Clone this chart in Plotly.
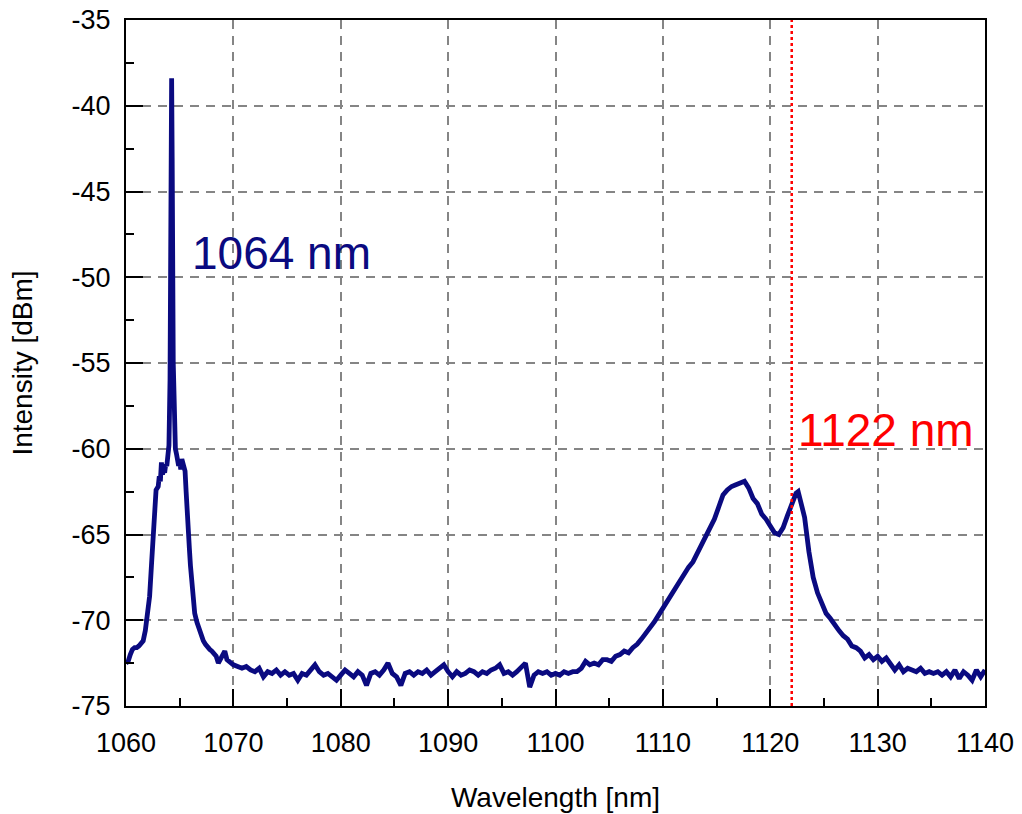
import plotly.graph_objects as go

# Measured emission spectrum: wavelength [nm] and intensity [dBm]
wavelength = [
    1060.0, 1060.2, 1060.4, 1060.6, 1060.8, 1061.0, 1061.2, 1061.4, 1061.6, 1061.8,
    1061.9, 1062.0, 1062.2, 1062.4, 1062.6, 1062.8, 1063.0, 1063.1, 1063.2, 1063.3,
    1063.4, 1063.5, 1063.6, 1063.7, 1063.8, 1063.9, 1064.0, 1064.1, 1064.2, 1064.25,
    1064.3, 1064.4, 1064.5, 1064.6, 1064.7, 1064.8, 1064.9, 1065.0, 1065.1, 1065.2,
    1065.3, 1065.4, 1065.5, 1065.6, 1065.7, 1065.8, 1065.9, 1066.0, 1066.2, 1066.4,
    1066.6, 1066.8, 1067.0, 1067.2, 1067.4, 1067.6, 1067.8, 1068.0, 1068.2, 1068.4,
    1068.6, 1068.8, 1069.0, 1069.2, 1069.4, 1069.6, 1069.8, 1070.0,
    1070.4, 1070.8, 1071.2, 1071.6, 1072.0, 1072.4, 1072.8, 1073.2, 1073.6, 1074.0,
    1074.4, 1074.8, 1075.2, 1075.6, 1076.0, 1076.4, 1076.8, 1077.2, 1077.6, 1078.0,
    1078.4, 1078.8, 1079.2, 1079.6, 1080.0, 1080.4, 1080.8, 1081.2, 1081.6, 1082.0,
    1082.4, 1082.8, 1083.2, 1083.6, 1084.0, 1084.4, 1084.8, 1085.2, 1085.6, 1086.0,
    1086.4, 1086.8, 1087.2, 1087.6, 1088.0, 1088.4, 1088.8, 1089.2, 1089.6, 1090.0,
    1090.4, 1090.8, 1091.2, 1091.6, 1092.0, 1092.4, 1092.8, 1093.2, 1093.6, 1094.0,
    1094.4, 1094.8, 1095.2, 1095.6, 1096.0, 1096.4, 1096.8, 1097.2, 1097.6, 1098.0,
    1098.4, 1098.8, 1099.2, 1099.6, 1100.0,
    1100.4, 1100.8, 1101.2, 1101.6, 1102.0, 1102.4, 1102.8, 1103.2, 1103.6, 1104.0,
    1104.4, 1104.8, 1105.2, 1105.6, 1106.0, 1106.4, 1106.8, 1107.2, 1107.6, 1108.0,
    1108.4, 1108.8, 1109.2, 1109.6, 1110.0, 1110.4, 1110.8, 1111.2, 1111.6, 1112.0,
    1112.4, 1112.8, 1113.2, 1113.6, 1114.0, 1114.4, 1114.8, 1115.2, 1115.6, 1116.0,
    1116.4, 1116.8, 1117.2, 1117.6, 1118.0, 1118.4, 1118.8, 1119.2, 1119.6, 1120.0,
    1120.4, 1120.8, 1121.2, 1121.6, 1122.0, 1122.4, 1122.6, 1122.8, 1123.2, 1123.6,
    1124.0, 1124.4, 1124.8, 1125.2, 1125.6, 1126.0, 1126.4, 1126.8, 1127.2, 1127.6,
    1128.0, 1128.4, 1128.8, 1129.2, 1129.6, 1130.0,
    1130.4, 1130.8, 1131.2, 1131.6, 1132.0, 1132.4, 1132.8, 1133.2, 1133.6, 1134.0,
    1134.4, 1134.8, 1135.2, 1135.6, 1136.0, 1136.4, 1136.8, 1137.2, 1137.6, 1138.0,
    1138.4, 1138.8, 1139.2, 1139.6, 1140.0,
]

intensity = [
    -72.5, -72.4, -72.0, -71.7, -71.6, -71.6, -71.5, -71.3, -71.2, -70.6,
    -70.0, -69.6, -68.6, -66.5, -64.6, -62.4, -62.2, -61.6, -61.9, -60.8,
    -61.5, -61.2, -61.4, -60.9, -61.0, -60.6, -59.8, -56.0, -45.0, -38.4,
    -43.0, -55.0, -59.5, -60.0, -60.3, -60.8, -61.0, -60.7, -61.2, -60.6,
    -60.8, -61.0, -61.3, -62.5, -64.0, -64.5, -65.8, -66.8, -68.0, -69.6,
    -70.1, -70.5, -70.9, -71.2, -71.4, -71.6, -71.7, -71.8, -72.0, -72.1,
    -72.5, -72.3, -72.1, -71.8, -72.3, -72.4, -72.5, -72.6,
    -72.7, -72.8, -72.7, -72.9, -73.0, -72.8, -73.3, -73.0, -73.1, -72.9,
    -73.2, -73.0, -73.2, -73.1, -73.5, -73.1, -73.2, -72.9, -72.6, -73.0,
    -73.2, -73.1, -73.3, -73.5, -73.2, -72.9, -73.1, -73.3, -73.0, -73.2,
    -73.8, -73.1, -73.0, -73.2, -72.9, -72.5, -73.1, -73.3, -73.8, -73.1,
    -73.0, -73.2, -73.0, -73.1, -72.9, -73.2, -73.0, -72.8, -72.6, -73.0,
    -73.3, -73.0, -73.2, -73.1, -72.9, -73.0, -73.2, -73.0, -73.1, -72.9,
    -72.8, -72.6, -73.1, -73.0, -73.2, -73.0, -72.7, -72.5, -73.9, -73.2,
    -73.0, -73.1, -73.0, -73.2, -73.1,
    -73.2, -73.0, -73.1, -73.0, -73.0, -72.8, -72.4, -72.6, -72.5, -72.6,
    -72.3, -72.3, -72.4, -72.1, -72.0, -71.8, -71.9, -71.6, -71.4, -71.1,
    -70.8, -70.5, -70.1, -69.7, -69.3, -68.9, -68.5, -68.0, -67.6, -67.3,
    -66.9, -66.6, -66.1, -65.5, -65.0, -64.6, -64.1, -63.4, -62.7, -62.4,
    -62.2, -62.1, -62.0, -61.9, -62.3, -62.9, -63.2, -63.8, -64.1, -64.5,
    -64.9, -65.0, -64.6, -63.9, -63.2, -62.6, -62.5, -63.0, -64.0, -66.0,
    -67.5, -68.4, -69.0, -69.6, -69.9, -70.3, -70.6, -70.9, -71.1, -71.5,
    -71.6, -71.8, -72.2, -72.0, -72.3, -72.1,
    -72.4, -72.2, -72.6, -72.9, -72.6, -73.0, -72.8, -72.9, -73.0, -72.8,
    -73.1, -73.0, -73.1, -73.0, -73.2, -73.0, -73.3, -72.9, -73.4, -73.0,
    -73.2, -73.5, -72.9, -73.3, -72.9,
]

# Wavelength markers
pump_line = 1064
stokes_line = 1122

# Axis ranges and tick positions
x_range = [1060, 1140]
y_range = [-75, -35]
x_ticks = [1060, 1070, 1080, 1090, 1100, 1110, 1120, 1130, 1140]
y_ticks = [-75, -70, -65, -60, -55, -50, -45, -40, -35]

FONT = "Liberation Sans, Arial, Helvetica, sans-serif"
NAVY = "#0a0a80"
GRID = "#858585"

fig = go.Figure()

fig.add_trace(go.Scatter(
    x=wavelength, y=intensity, mode="lines",
    line=dict(color=NAVY, width=4.8),
    showlegend=False, hoverinfo="x+y",
))

# Dotted vertical marker at the Stokes wavelength
fig.add_trace(go.Scatter(
    x=[stokes_line, stokes_line], y=y_range, mode="lines",
    line=dict(color="#ff0000", width=2.5, dash="dot"),
    showlegend=False, hoverinfo="skip",
))

fig.add_annotation(
    x=1066.0, y=-48.6, xref="x", yref="y",
    text=f"{pump_line} nm", showarrow=False,
    xanchor="left", yanchor="middle",
    font=dict(family=FONT, size=46, color=NAVY),
)
fig.add_annotation(
    x=1122.4, y=-58.9, xref="x", yref="y",
    text=f"{stokes_line} nm", showarrow=False,
    xanchor="left", yanchor="middle",
    font=dict(family=FONT, size=46, color="#ff0000"),
)

axis_common = dict(
    showline=True, linecolor="black", linewidth=2, mirror=True,
    ticks="inside", ticklen=17, tickwidth=2, tickcolor="black",
    showgrid=True, gridcolor=GRID, gridwidth=1.5, griddash="9px,7px",
    zeroline=False, automargin=False,
    tickfont=dict(family=FONT, size=27, color="black"),
    title_font=dict(family=FONT, size=28, color="black"),
)

fig.update_xaxes(
    range=x_range, tickmode="array",
    tickvals=x_ticks, ticktext=[str(v) for v in x_ticks],
    minor=dict(dtick=5, tick0=1060, ticks="inside", ticklen=8, tickwidth=2,
               tickcolor="black", showgrid=False),
    title_text="Wavelength [nm]", title_standoff=30,
    ticklabelstandoff=12,
    **axis_common,
)
fig.update_yaxes(
    range=y_range, tickmode="array",
    tickvals=y_ticks, ticktext=[str(v) for v in y_ticks],
    minor=dict(dtick=2.5, tick0=-75, ticks="inside", ticklen=8, tickwidth=2,
               tickcolor="black", showgrid=False),
    title_text="Intensity [dBm]", title_standoff=31,
    ticklabelstandoff=8,
    **axis_common,
)

fig.update_layout(
    width=1022, height=814,
    margin=dict(l=126, r=37, t=20, b=108),
    plot_bgcolor="white", paper_bgcolor="white",
    font=dict(family=FONT),
)

fig.write_html("out.html")
